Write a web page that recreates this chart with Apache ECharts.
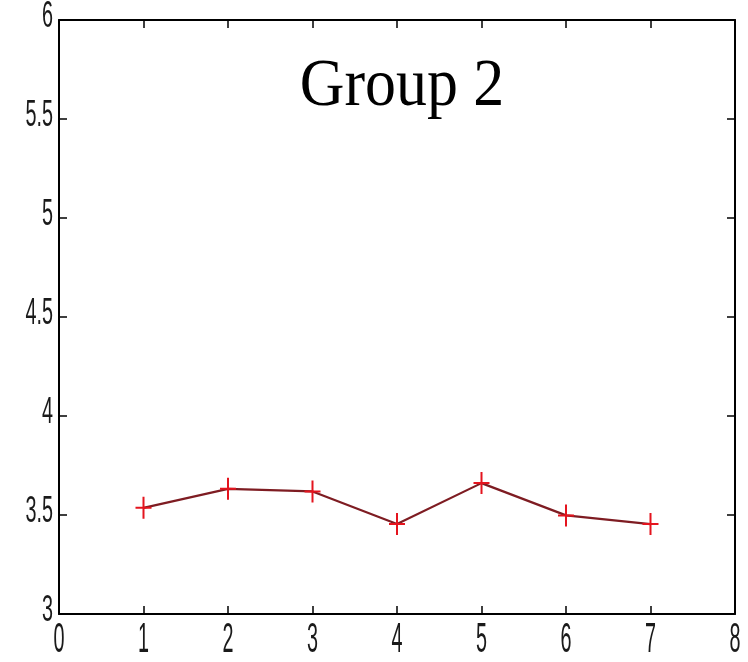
<!DOCTYPE html>
<html><head><meta charset="utf-8">
<script src="https://cdn.jsdelivr.net/npm/echarts@6/dist/echarts.min.js"></script>
<style>html,body{margin:0;padding:0;background:#fff}#c{width:748px;height:662px}</style>
</head><body><div id="c"></div>
<script>
const xValues = [1, 2, 3, 4, 5, 6, 7];
const yValues = [3.536, 3.632, 3.619, 3.455, 3.661, 3.498, 3.454];
const titleText = 'Group 2';
const xTicks = [0, 1, 2, 3, 4, 5, 6, 7, 8];
const yTicks = [3, 3.5, 4, 4.5, 5, 5.5, 6];
const xTickLabels = ['0', '1', '2', '3', '4', '5', '6', '7', '8'];
const yTickLabels = ['3', '3.5', '4', '4.5', '5', '5.5', '6'];

const chart = echarts.init(document.getElementById('c'));
const axLine = {show: true, onZero: false, lineStyle: {color: '#000', width: 2}};
const tick = {show: true, inside: true, length: 8, lineStyle: {color: '#000', width: 1.5}};
const xMin = xTicks[0], xMax = xTicks[xTicks.length - 1], xInt = xTicks[1] - xTicks[0];
const yMin = yTicks[0], yMax = yTicks[yTicks.length - 1], yInt = yTicks[1] - yTicks[0];
chart.setOption({
  animation: false,
  grid: {left: 59, right: 13, top: 20, bottom: 48, containLabel: false},
  xAxis: [
    {type: 'value', min: xMin, max: xMax, interval: xInt, position: 'bottom',
     axisLine: axLine, axisTick: tick, splitLine: {show: false}, axisLabel: {show: false}},
    {type: 'value', min: xMin, max: xMax, interval: xInt, position: 'top',
     axisLine: axLine, axisTick: tick, splitLine: {show: false}, axisLabel: {show: false}}
  ],
  yAxis: [
    {type: 'value', min: yMin, max: yMax, interval: yInt, position: 'left',
     axisLine: axLine, axisTick: tick, splitLine: {show: false}, axisLabel: {show: false}},
    {type: 'value', min: yMin, max: yMax, interval: yInt, position: 'right',
     axisLine: axLine, axisTick: tick, splitLine: {show: false}, axisLabel: {show: false}}
  ],
  series: [{
    type: 'line',
    data: xValues.map((x, i) => [x, yValues[i]]),
    lineStyle: {color: '#7e1c22', width: 2.2},
    symbol: 'path://M-1 -11 H1 V-1 H8 V1 H1 V11 H-1 V1 H-8 V-1 H-1 Z',
    symbolSize: [16, 22],
    itemStyle: {color: '#e4141e'},
    showSymbol: true,
    z: 3
  }]
});

// Tick labels (narrow, tall MATLAB-like glyphs), placed with the axes' own scales
const labelFont = 'normal 36px "Liberation Sans", Arial, sans-serif';
const graphics = [];
xTicks.forEach((v, i) => {
  const px = chart.convertToPixel({xAxisIndex: 0}, v);
  const py = chart.convertToPixel({yAxisIndex: 0}, yMin);
  graphics.push({type: 'text', x: px, y: py + 4, scaleX: 0.55, scaleY: 1.2,
    style: {text: xTickLabels[i], font: labelFont, fill: '#1a1a1a', textAlign: 'center', textVerticalAlign: 'top'}});
});
yTicks.forEach((v, i) => {
  const px = chart.convertToPixel({xAxisIndex: 0}, xMin);
  const py = chart.convertToPixel({yAxisIndex: 0}, v);
  graphics.push({type: 'text', x: px - 6, y: py - 3, scaleX: 0.55, scaleY: 1.0,
    style: {text: yTickLabels[i], font: labelFont, fill: '#1a1a1a', textAlign: 'right', textVerticalAlign: 'middle'}});
});
graphics.push({type: 'text', x: 402, y: 87, scaleX: 0.91,
  style: {text: titleText, font: 'normal 68px "Liberation Serif", "Times New Roman", serif', fill: '#000', textAlign: 'center', textVerticalAlign: 'middle'}});
chart.setOption({graphic: graphics});
</script></body></html>
